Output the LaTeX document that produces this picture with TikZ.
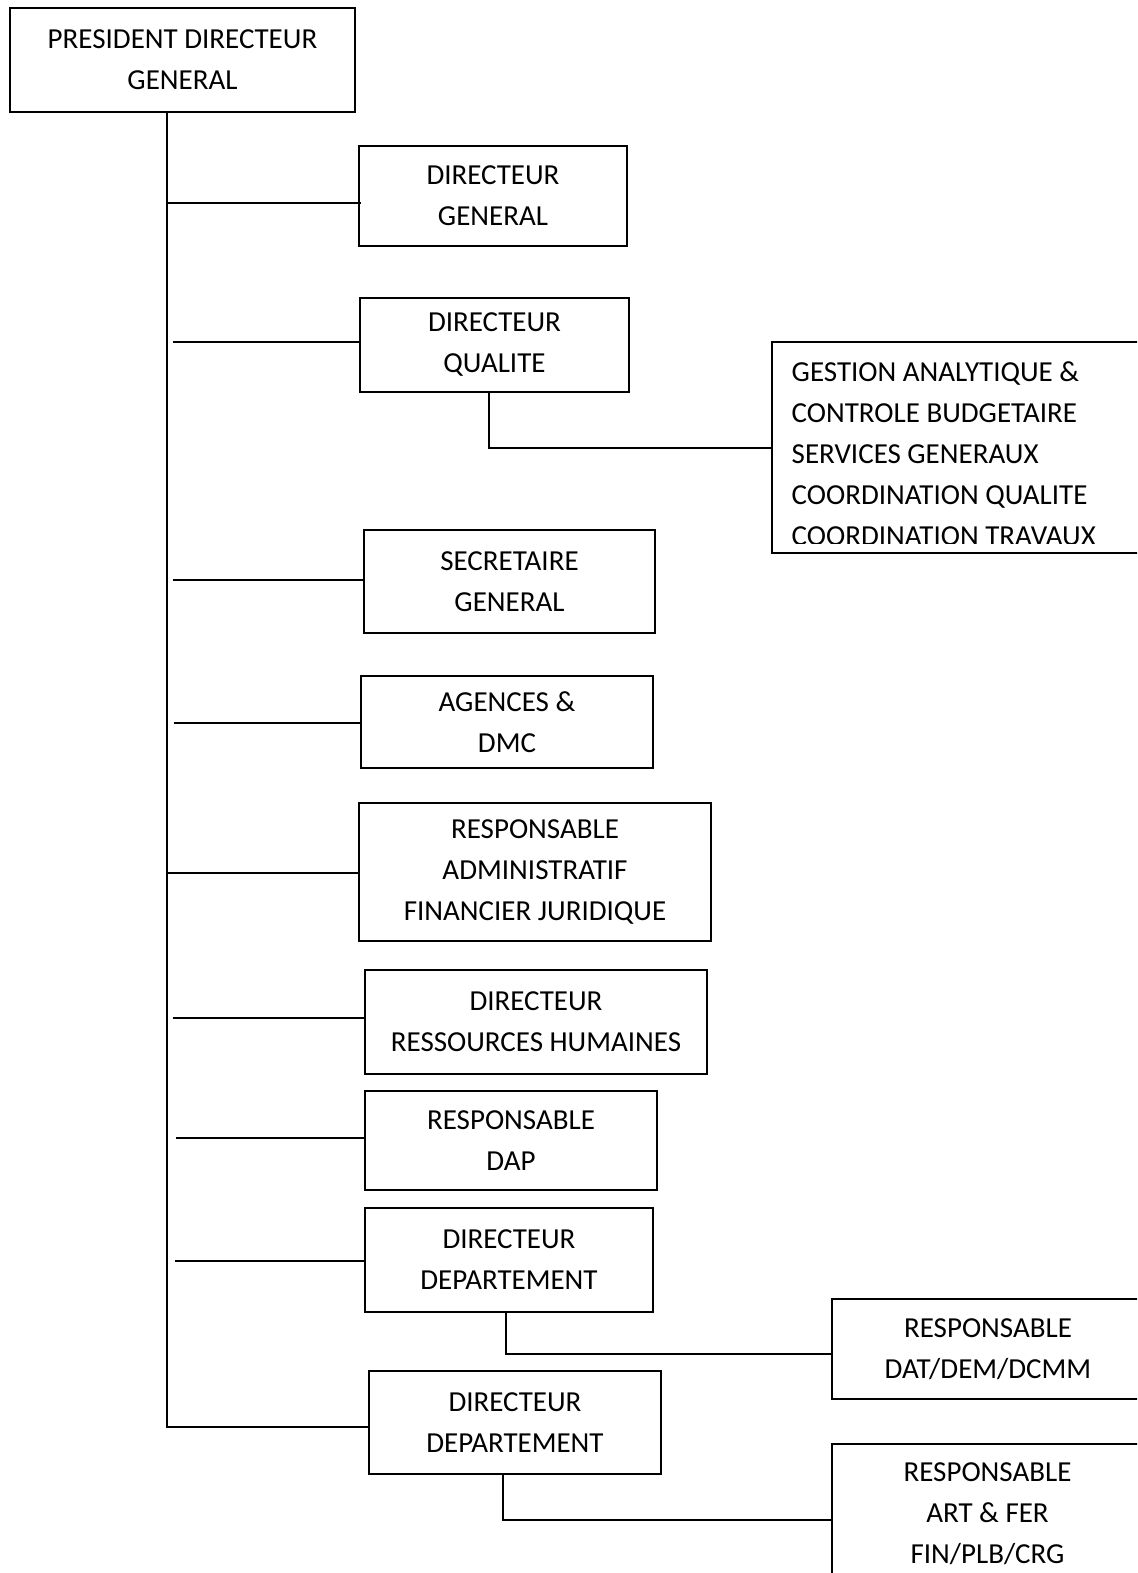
\documentclass[tikz,border=0pt]{standalone}
\usepackage{fontspec}
\setmainfont{Carlito}
\begin{document}
\begin{tikzpicture}[x=0.5pt,y=-0.5pt,
  box/.style={draw, line width=1pt, inner sep=0pt, outer sep=0pt, align=center,
    font=\fontsize{14.5}{20.5}\selectfont},
  link/.style={line width=1pt}]
\clip (0,0) rectangle (1137,1573);
% boxes
\node[box, minimum width=172.5pt, minimum height=52pt] (pdg) at (182.5,60) {PRESIDENT DIRECTEUR\\GENERAL};
\node[box, minimum width=134pt, minimum height=49.75pt] (dg) at (493,196) {DIRECTEUR\\GENERAL};
\node[box, minimum width=134.5pt, minimum height=46.75pt] (dq) at (494.5,345) {DIRECTEUR\\QUALITE};
\node[box, anchor=north west, minimum width=190pt, minimum height=105.5pt,
  path picture={
    \clip (path picture bounding box.north west) rectangle ([yshift=5pt]path picture bounding box.south east);
    \node[anchor=north west, align=left, inner sep=0pt, draw=none, minimum width=0pt, minimum height=0pt,
      font=\fontsize{14.5}{20.5}\selectfont]
      at ([xshift=9.85pt,yshift=-10pt]path picture bounding box.north west)
      {GESTION ANALYTIQUE \&\\CONTROLE BUDGETAIRE\\SERVICES GENERAUX\\COORDINATION QUALITE\\COORDINATION TRAVAUX};
  }] (gest) at (772,342) {};
\node[box, minimum width=145.5pt, minimum height=51.5pt] (sg) at (509.5,581.5) {SECRETAIRE\\GENERAL};
\node[box, minimum width=146pt, minimum height=46pt] (ag) at (507,722) {AGENCES \&\\DMC};
\node[box, minimum width=176pt, minimum height=69pt] (raf) at (535,872) {RESPONSABLE\\ADMINISTRATIF\\FINANCIER JURIDIQUE};
\node[box, minimum width=171pt, minimum height=52pt] (drh) at (536,1022) {DIRECTEUR\\RESSOURCES HUMAINES};
\node[box, minimum width=146pt, minimum height=49.5pt] (dap) at (511,1140.5) {RESPONSABLE\\DAP};
\node[box, minimum width=144pt, minimum height=52pt] (dd1) at (509,1260) {DIRECTEUR\\DEPARTEMENT};
\node[box, minimum width=156pt, minimum height=50pt] (dat) at (988,1349) {RESPONSABLE\\DAT/DEM/DCMM};
\node[box, minimum width=146pt, minimum height=51.5pt] (dd2) at (515,1422.5) {DIRECTEUR\\DEPARTEMENT};
\node[box, minimum width=156pt, minimum height=70pt] (art) at (987.5,1514) {RESPONSABLE\\ART \& FER\\FIN/PLB/CRG};
% branch start points on the trunk
\coordinate (b1) at (167,203);
\coordinate (b2) at (173,342);
\coordinate (b3) at (172.6,580);
\coordinate (b4) at (173.6,722.5);
\coordinate (b5) at (167,873);
\coordinate (b6) at (172.6,1017.5);
\coordinate (b7) at (175.6,1138);
\coordinate (b8) at (174.6,1261);
% trunk
\draw[link] ([xshift=-7.75pt]pdg.south) |- ([yshift=-2.25pt]dd2.west);
% branches
\draw[link] (b1) -- ([xshift=1pt]dg.west |- b1);
\draw[link] (b2) -- (dq.west |- b2);
\draw[link] (b3) -- (sg.west |- b3);
\draw[link] (b4) -- (ag.west |- b4);
\draw[link] (b5) -- (raf.west |- b5);
\draw[link] (b6) -- (drh.west |- b6);
\draw[link] (b7) -- (dap.west |- b7);
\draw[link] (b8) -- (dd1.west |- b8);
% sub connectors
\draw[link] ([xshift=-2.9pt]dq.south) |- (gest.west);
\draw[link] ([xshift=-1.6pt]dd1.south) |- ([yshift=-2.35pt]dat.west);
\draw[link] ([xshift=-6.1pt]dd2.south) |- ([yshift=-3pt]art.west);
\end{tikzpicture}
\end{document}
